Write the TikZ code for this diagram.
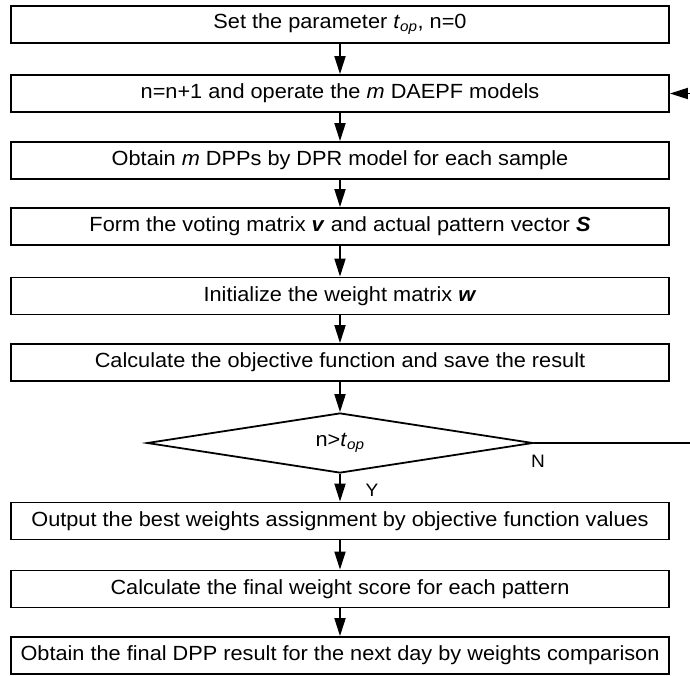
\documentclass[tikz,border=0pt]{standalone}
\usepackage{fontspec}
\setmainfont[FakeStretch=1.06]{Liberation Sans}
\usetikzlibrary{arrows.meta,shapes.geometric}
\begin{document}
\begin{tikzpicture}[x=1pt,y=-1pt,
  box/.style={draw, line width=1.8pt, minimum width=658pt, minimum height=37pt, inner sep=0pt,
    font=\fontsize{20.5}{25}\selectfont},
  dec/.style={draw, diamond, line width=1.8pt, minimum width=386pt, minimum height=60pt,
    aspect=6.43, inner sep=0pt, font=\fontsize{20.5}{25}\selectfont},
  arr/.style={line width=1.8pt, -{Triangle[width=11pt,length=18pt]}},
  lbl/.style={font=\fontsize{18}{20}\selectfont, inner sep=0pt}]
\useasboundingbox (0,0) rectangle (690,675);
\clip (0,0) rectangle (690,675);
\node[box] (b1) at (340,24.5) {Set the parameter \textit{t}\textsubscript{\textit{op}}, n=0};
\node[box] (b2) at (340,93.5) {n=n+1 and operate the \textit{m} DAEPF models};
\node[box] (b3) at (340,160.5) {Obtain \textit{m} DPPs by DPR model for each sample};
\node[box] (b4) at (340,226.5) {Form the voting matrix \textbf{\textit{v}} and actual pattern vector \textbf{\textit{S}}};
\node[box] (b5) at (340,296) {Initialize the weight matrix \textbf{\textit{w}}};
\node[box] (b6) at (340,362.5) {Calculate the objective function and save the result};
\node[dec] (d) at (340,443) {n>\textit{t}\textsubscript{\textit{op}}};
\node[box] (b7) at (340,521) {Output the best weights assignment by objective function values};
\node[box] (b8) at (340,589) {Calculate the final weight score for each pattern};
\node[box] (b9) at (340,655.5) {Obtain the final DPP result for the next day by weights comparison};
\node[lbl] (ylab) at (372,490) {Y};
\node[lbl] (nlab) at (538,461) {N};
\draw[arr] (b1) -- (b2);
\draw[arr] (b2) -- (b3);
\draw[arr] (b3) -- (b4);
\draw[arr] (b4) -- (b5);
\draw[arr] (b5) -- (b6);
\draw[arr] (b6) -- (d);
\draw[arr] (d) -- (b7);
\draw[arr] (b7) -- (b8);
\draw[arr] (b8) -- (b9);
\coordinate (lp1) at (705,443);
\coordinate (lp2) at (705,93.5);
\draw[arr] (d.east) -- (lp1) -- (lp2) -- (b2.east);
\end{tikzpicture}
\end{document}
